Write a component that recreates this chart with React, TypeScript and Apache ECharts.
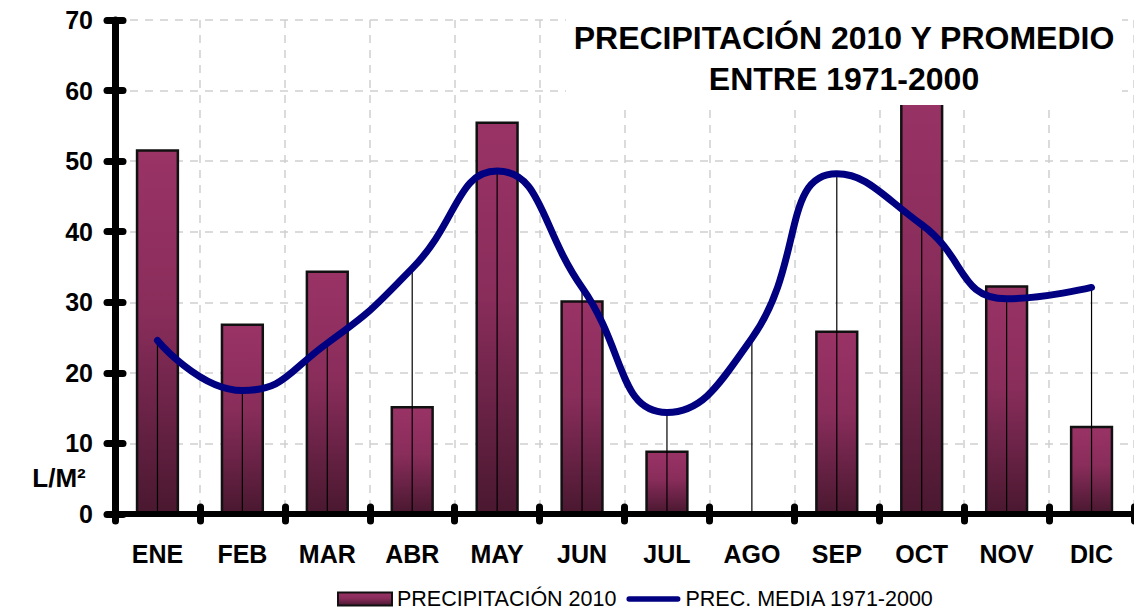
import React, { useEffect, useRef } from "react";
import * as echarts from "echarts";

const categories = ["ENE", "FEB", "MAR", "ABR", "MAY", "JUN", "JUL", "AGO", "SEP", "OCT", "NOV", "DIC"];
const precip2010 = [51.7, 27.0, 34.5, 15.3, 55.6, 30.3, 9.0, 0, 26.0, 62.0, 32.4, 12.5];
const precipMedia = [24.6, 17.5, 24.2, 34.8, 48.6, 32.1, 14.4, 24.9, 48.2, 41.0, 30.5, 32.1];
const seriesNames = ["PRECIPITACIÓN 2010", "PREC. MEDIA 1971-2000"];
const titleLines = ["PRECIPITACIÓN 2010 Y PROMEDIO", "ENTRE 1971-2000"];
const yUnit = "L/M²";
const yMin = 0;
const yMax = 70;
const yInterval = 10;

const FONT = "'Liberation Sans', Arial, Helvetica, sans-serif";

export default function App() {
  const ref = useRef<HTMLDivElement>(null);

  useEffect(() => {
    if (!ref.current) return;
    const chart = echarts.init(ref.current, undefined, { renderer: "svg" });

    const barGradient = new echarts.graphic.LinearGradient(0, 0, 0, 1, [
      { offset: 0, color: "#9a3366" },
      { offset: 0.45, color: "#892d5b" },
      { offset: 1, color: "#4a1830" },
    ]);

    const gridLine = { show: true, lineStyle: { color: "#cfcfcf", width: 1.5, type: [8, 7] } };
    const tickStyle = { color: "#000", width: 7, cap: "round" };

    const option: any = {
      animation: false,
      backgroundColor: "#fff",
      grid: { left: 115, top: 20, width: 1020, height: 494, containLabel: false },
      xAxis: [
        {
          type: "category",
          data: categories,
          position: "bottom",
          z: 0,
          axisLine: { show: false },
          axisTick: { show: false },
          axisLabel: {
            interval: 0,
            margin: 27,
            color: "#000",
            fontSize: 25,
            fontWeight: "bold",
            fontFamily: FONT,
          },
          splitLine: { ...gridLine, interval: 0 },
        },
        {
          type: "category",
          data: categories,
          position: "bottom",
          offset: 0,
          z: 10,
          axisLine: { show: true, lineStyle: { color: "#000", width: 6 } },
          axisTick: { show: true, interval: 0, length: 7, lineStyle: tickStyle },
          axisLabel: { show: false },
          splitLine: { show: false },
        },
        {
          type: "category",
          data: categories,
          position: "bottom",
          offset: 0,
          z: 10,
          axisLine: { show: false },
          axisTick: { show: true, inside: true, interval: 0, length: 7, lineStyle: tickStyle },
          axisLabel: { show: false },
          splitLine: { show: false },
        },
      ],
      yAxis: [
        {
          type: "value",
          min: yMin,
          max: yMax,
          interval: yInterval,
          position: "left",
          z: 0,
          axisLine: { show: false },
          axisTick: { show: false },
          axisLabel: {
            margin: 22,
            color: "#000",
            fontSize: 25,
            fontWeight: "bold",
            fontFamily: FONT,
          },
          splitLine: gridLine,
        },
        {
          type: "value",
          min: yMin,
          max: yMax,
          interval: yInterval,
          position: "left",
          offset: 0,
          z: 10,
          axisLine: { show: true, lineStyle: { color: "#000", width: 7 } },
          axisTick: { show: true, length: 8, lineStyle: tickStyle },
          axisLabel: { show: false },
          splitLine: { show: false },
        },
        {
          type: "value",
          min: yMin,
          max: yMax,
          interval: yInterval,
          position: "left",
          offset: 0,
          z: 10,
          axisLine: { show: false },
          axisTick: { show: true, inside: true, length: 8, lineStyle: tickStyle },
          axisLabel: { show: false },
          splitLine: { show: false },
        },
      ],
      legend: {
        left: 332,
        top: 583,
        itemWidth: 54,
        itemHeight: 13,
        itemGap: 10,
        textStyle: { color: "#000", fontSize: 21.5, fontFamily: FONT },
        data: [
          { name: seriesNames[0], icon: "rect" },
          {
            name: seriesNames[1],
            icon: "path://M3,0 L57,0 A3,3 0 0 1 57,6 L3,6 A3,3 0 0 1 3,0 Z",
          },
        ],
      },
      series: [
        {
          name: seriesNames[0],
          type: "bar",
          xAxisIndex: 0,
          yAxisIndex: 0,
          data: precip2010,
          barWidth: "51%",
          z: 2,
          itemStyle: { color: barGradient, borderColor: "#111", borderWidth: 2.5 },
        },
        {
          name: "drop",
          type: "custom",
          xAxisIndex: 0,
          yAxisIndex: 0,
          z: 3,
          data: precipMedia.map((v, i) => [i, v]),
          encode: { x: 0, y: 1 },
          renderItem: (params: any, api: any) => {
            const idx = api.value(0);
            const top = api.coord([idx, api.value(1)]);
            const bottom = api.coord([idx, 0]);
            return {
              type: "line",
              shape: { x1: top[0], y1: top[1], x2: bottom[0], y2: bottom[1] },
              style: { stroke: "#000", lineWidth: 1.2 },
            };
          },
        },
        {
          name: seriesNames[1],
          type: "line",
          xAxisIndex: 0,
          yAxisIndex: 0,
          data: precipMedia,
          smooth: 0.5,
          showSymbol: false,
          symbol: "none",
          z: 4,
          itemStyle: { color: "#000080" },
          lineStyle: { color: "#000080", width: 7, cap: "round" },
        },
      ],
      graphic: [
        {
          type: "rect",
          z: 100,
          shape: { x: 566, y: 0, width: 556, height: 105 },
          style: { fill: "#fff" },
        },
        {
          type: "text",
          z: 101,
          x: 844,
          y: 58,
          style: {
            text: titleLines.join("\n"),
            align: "center",
            verticalAlign: "middle",
            fill: "#000",
            font: `bold 32px ${FONT}`,
            lineHeight: 41,
          },
        },
        {
          type: "text",
          z: 101,
          x: 59,
          y: 478,
          style: {
            text: yUnit,
            align: "center",
            verticalAlign: "middle",
            fill: "#000",
            font: `bold 26px ${FONT}`,
          },
        },
      ],
    };

    chart.setOption(option);
    return () => chart.dispose();
  }, []);

  return (
    <div
      ref={ref}
      style={{ position: "fixed", left: 0, top: 0, width: 1134, height: 614, background: "#fff" }}
    />
  );
}
